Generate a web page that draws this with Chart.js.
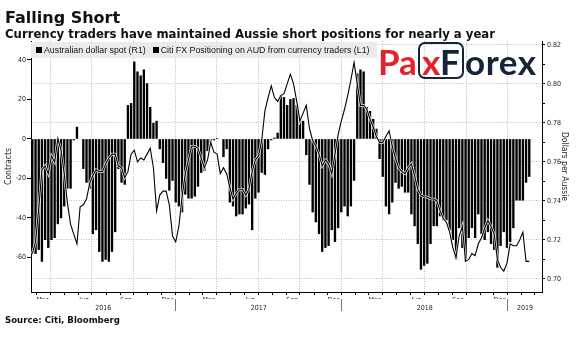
<!DOCTYPE html>
<html><head><meta charset="utf-8">
<script src="https://cdn.jsdelivr.net/npm/chart.js@4.4.1/dist/chart.umd.min.js"></script>
<style>
html,body{margin:0;padding:0;background:#fff;}
#wrap{position:relative;width:577px;height:337px;overflow:hidden;}
#c{position:absolute;left:0;top:0;}
.t{position:absolute;white-space:nowrap;color:#111;line-height:1;}
#title{left:5px;top:8px;font:bold 16px 'DejaVu Sans',sans-serif;}
#subtitle{left:5px;top:27px;font:bold 11.7px 'DejaVu Sans',sans-serif;}
#source{left:5px;top:315px;font:bold 8.6px 'DejaVu Sans',sans-serif;}
#legend{position:absolute;left:31px;top:42px;width:346px;height:16px;background:#ebebeb;font:8.8px 'Liberation Sans',sans-serif;line-height:16px;color:#111;white-space:nowrap;box-sizing:border-box;padding-left:5px;}
#legend .sq{display:inline-block;width:6px;height:6px;background:#000;margin-right:2px;vertical-align:0px;}
#logo{position:absolute;left:378px;top:40px;font:bold 35px 'Lato',sans-serif;white-space:nowrap;line-height:42px;}
#logo .r{color:#e3232b;}
#logo .n{color:#13243b;}
#logo .sp{letter-spacing:0.6px;}
#logo .box{display:inline-block;border:2.5px solid #13243b;border-radius:7px;padding:0 2px;line-height:34px;height:33px;vertical-align:top;margin:2px 1px 0 1px;}
</style>
</head><body>
<div id="wrap">
<canvas id="c" width="577" height="337"></canvas>
<div id="title" class="t">Falling Short</div>
<div id="subtitle" class="t">Currency traders have maintained Aussie short positions for nearly a year</div>
<div id="legend"><span class="sq"></span>Australian dollar spot (R1)<span class="sq" style="margin-left:7px"></span>Citi FX Positioning on AUD from currency traders (L1)</div>
<div id="logo"><span class="r">Pa</span><span class="box"><span class="r">x</span><span class="n">F</span></span><span class="n sp">orex</span></div>
<div id="source" class="t">Source: Citi, Bloomberg</div>
</div>
<script>
// ---- data ----
const firstWeek = '2016-02-21';          // weekly observations
const axisStart = '2016-02-18';
const axisEnd = '2019-03-17';
const positioning = [
 -56,-58,-56,-62,-51,-55,-51,-50,-43,-40,-34,-25,-25,-0.5,6,null,
 -15,-22,-25,-48,-46,-57,-62,-61,-62,-57,-47,-15,-22,-23,
 17,18,39,34,32,35,28,16,8,9,
 -5,-12,-20,-26,-21,-32,-34,-37,-28,-30,-30,-29,-24,-17,-16,-6,-3,-0.5,0.3,null,
 -9,-5,-32,-34,-39,-38,-38,-35,-33,-46,-30,-27,-17,-18,-5,-0.5,0.5,3,
 22,21,17,20,20.5,17,10,9,
 -8,-23,-37,-42,-48,-57,-55,-54,-46,-52,-45,-37,-34,-39,-34,-21,
 33,35,34,16,14,10,5,
 -10,-19,-34,-38,-32,-22,-25,-24,-27,-27,-38,-44,-53,-66,-64,-63,-53,-44,-44,-39,-41,-41,-46,-51,-61,-45,-55,-62,-50,-45,-50,-38,-48,-51,-47,-53,-56,-65,-54,-47,-55,-52,-45,-31,-31,-31,-22,-19
];
const audSpot = [
 0.713,0.719,0.736,0.756,0.758,0.754,0.763,0.760,0.772,0.766,0.754,0.739,0.728,0.723,0.718,0.737,
 0.738,0.741,0.749,0.753,0.756,0.755,0.755,0.759,0.762,0.764,0.764,0.758,0.757,0.752,
 0.755,0.764,0.766,0.760,0.762,0.761,0.764,0.767,0.757,0.735,
 0.743,0.745,0.745,0.738,0.722,0.719,0.727,0.742,0.754,0.761,0.768,0.768,0.767,0.762,0.757,0.761,0.770,0.765,0.764,0.754,
 0.757,0.754,0.747,0.741,0.744,0.746,0.746,0.743,0.746,0.755,0.761,0.763,0.771,0.786,0.793,0.799,0.793,0.791,
 0.794,0.795,0.800,0.805,0.800,0.791,0.781,0.785,
 0.789,0.777,0.771,0.768,0.764,0.758,0.761,0.759,0.754,0.764,0.774,0.781,0.787,0.794,0.802,0.811,
 0.800,0.789,0.789,0.787,0.782,0.778,0.773,
 0.770,0.770,0.773,0.776,0.768,0.762,0.757,0.755,0.754,0.757,0.759,0.753,0.746,0.743,0.742,0.742,0.741,0.741,0.740,0.735,0.731,0.729,0.724,0.716,0.711,0.722,0.727,0.709,0.710,0.713,0.712,0.718,0.721,0.726,0.730,0.727,0.723,0.710,0.706,0.704,0.708,0.718,0.717,0.717,0.720,0.724,0.709,0.709
];
const leftTicks = [40, 20, 0, -20, -40, -60];
const leftRange = [-77.5, 49.6];
const rightTicks = [0.70, 0.72, 0.74, 0.76, 0.78, 0.80, 0.82];
const rightMinorTicks = [0.71, 0.73, 0.75, 0.77, 0.79, 0.81];
const rightRange = [0.6933, 0.822];
const monthLabels = ['Mar', 'Jun', 'Sep', 'Dec'];
const years = [2016, 2017, 2018, 2019];
const legendLabels = ['Australian dollar spot (R1)', 'Citi FX Positioning on AUD from currency traders (L1)'];

// ---- helpers (dates -> day numbers) ----
const DAY = 86400000, BASE = Date.UTC(2016, 0, 1);
const dayOf = s => { const [y, m, d] = s.split('-').map(Number); return (Date.UTC(y, m - 1, d) - BASE) / DAY; };
const dayYMD = (y, m, d) => (Date.UTC(y, m - 1, d) - BASE) / DAY;
const x0 = dayOf(firstWeek), xMin = dayOf(axisStart), xMax = dayOf(axisEnd);
const weekX = positioning.map((_, i) => x0 + 7 * i);

const monthNames = ['Jan','Feb','Mar','Apr','May','Jun','Jul','Aug','Sep','Oct','Nov','Dec'];
const monthTicks = [];
for (let y = 2016; y <= 2019; y++) for (let m = 1; m <= 12; m++) {
  const s = dayYMD(y, m, 1);
  if (s > xMin && s < xMax) monthTicks.push({ value: s, kind: (m - 1) % 3 === 0 ? 'q' : 'm', lbl: '' });
  const mid = dayYMD(y, m, 14);
  if (mid > xMin && mid < xMax - 20 && monthLabels.includes(monthNames[m - 1])) monthTicks.push({ value: mid, kind: 'l', lbl: monthNames[m - 1] });
}
monthTicks.sort((a, b) => a.value - b.value);
const yearTicks = [];
years.forEach(y => {
  const a = Math.max(dayYMD(y, 1, 1), xMin), b = Math.min(dayYMD(y + 1, 1, 1), xMax);
  if (y > 2016) yearTicks.push({ value: dayYMD(y, 1, 1), kind: 's', lbl: '' });
  yearTicks.push({ value: (a + b) / 2, kind: 'y', lbl: String(y) });
});
yearTicks.sort((a, b) => a.value - b.value);

const barData = positioning.map((v, i) => ({ x: weekX[i], y: v }));
const lineData = audSpot.map((v, i) => ({ x: weekX[i], y: v }));

const narrow = "'Liberation Sans Narrow','DejaVu Sans Condensed',sans-serif";
const CLEAR = 'rgba(0,0,0,0)';

new Chart(document.getElementById('c'), {
  type: 'bar',
  data: {
    datasets: [
      { type: 'line', label: legendLabels[0], data: lineData, yAxisID: 'y1', xAxisID: 'x',
        borderColor: '#000', borderWidth: 1.1, pointRadius: 0, tension: 0, order: 0 },
      { type: 'line', label: legendLabels[0] + ' halo', data: lineData, yAxisID: 'y1', xAxisID: 'x',
        borderColor: 'rgba(255,255,255,0.85)', borderWidth: 2.6, pointRadius: 0, tension: 0, order: 1 },
      { type: 'bar', label: legendLabels[1], data: barData, yAxisID: 'y', xAxisID: 'x',
        backgroundColor: '#000', borderWidth: 0, barThickness: 1.7, order: 2 }
    ]
  },
  options: {
    responsive: false, animation: false, devicePixelRatio: 1,
    layout: { padding: { top: 41, bottom: 18, left: 0, right: 0 } },
    plugins: { legend: { display: false }, tooltip: { enabled: false } },
    scales: {
      x: {
        type: 'linear', position: 'bottom', min: xMin, max: xMax, offset: false,
        afterBuildTicks: s => { s.ticks = monthTicks.map(t => ({ ...t })); },
        afterFit: s => { s.height = 7; },
        ticks: { autoSkip: false, maxRotation: 0, minRotation: 0, padding: 1, color: '#222',
          font: { family: narrow, size: 7 }, callback: (v, i, t) => t[i].lbl },
        grid: { offset: false, drawOnChartArea: true, tickLength: 3, lineWidth: 1,
          color: c => (c.tick && c.tick.kind === 'q') ? '#bdbdbd' : CLEAR,
          tickColor: c => (c.tick && c.tick.kind !== 'l') ? '#000' : CLEAR },
        border: { display: true, color: '#000', width: 1, dash: [1, 1.5] }
      },
      x2: {
        type: 'linear', position: 'bottom', min: xMin, max: xMax, offset: false,
        afterBuildTicks: s => { s.ticks = yearTicks.map(t => ({ ...t })); },
        afterFit: s => { s.height = 20; },
        ticks: { autoSkip: false, maxRotation: 0, minRotation: 0, padding: -7.5, color: '#222',
          font: { family: narrow, size: 7 }, callback: (v, i, t) => t[i].lbl },
        grid: { offset: false, drawOnChartArea: false, tickLength: 12, color: CLEAR,
          tickColor: c => (c.tick && c.tick.kind === 's') ? '#777' : CLEAR },
        border: { display: false }
      },
      y: {
        type: 'linear', position: 'left', min: leftRange[0], max: leftRange[1],
        afterBuildTicks: s => { s.ticks = leftTicks.map(v => ({ value: v })); },
        afterFit: s => { s.width = 31; },
        ticks: { padding: 1, color: '#222', font: { family: narrow, size: 7 }, callback: v => String(v) },
        grid: { drawOnChartArea: false, tickLength: 4, tickColor: '#000' },
        border: { display: true, color: '#000', width: 1 },
        title: { display: true, text: 'Contracts', color: '#222', font: { family: narrow, size: 8.5 }, padding: { top: 4, bottom: 0 } }
      },
      y1: {
        type: 'linear', position: 'right', min: rightRange[0], max: rightRange[1],
        afterBuildTicks: s => {
          s.ticks = rightTicks.map(v => ({ value: v, major: true })).concat(rightMinorTicks.map(v => ({ value: v, major: false })))
            .sort((a, b) => a.value - b.value);
        },
        afterFit: s => { s.width = 35; },
        ticks: { padding: 2, color: '#222', font: { family: narrow, size: 7 },
          callback: (v, i, t) => t[i].major ? v.toFixed(2) : '' },
        grid: { drawOnChartArea: true, tickLength: 3, lineWidth: 1,
          color: c => (c.tick && c.tick.major) ? '#bdbdbd' : CLEAR, tickColor: '#000' },
        border: { display: true, color: '#000', width: 1, dash: [1, 1.5] },
        title: { display: true, text: 'Dollars per Aussie', color: '#222', font: { family: narrow, size: 8.5 }, padding: { top: 8, bottom: 0 } }
      }
    }
  }
});
</script>
</body></html>
